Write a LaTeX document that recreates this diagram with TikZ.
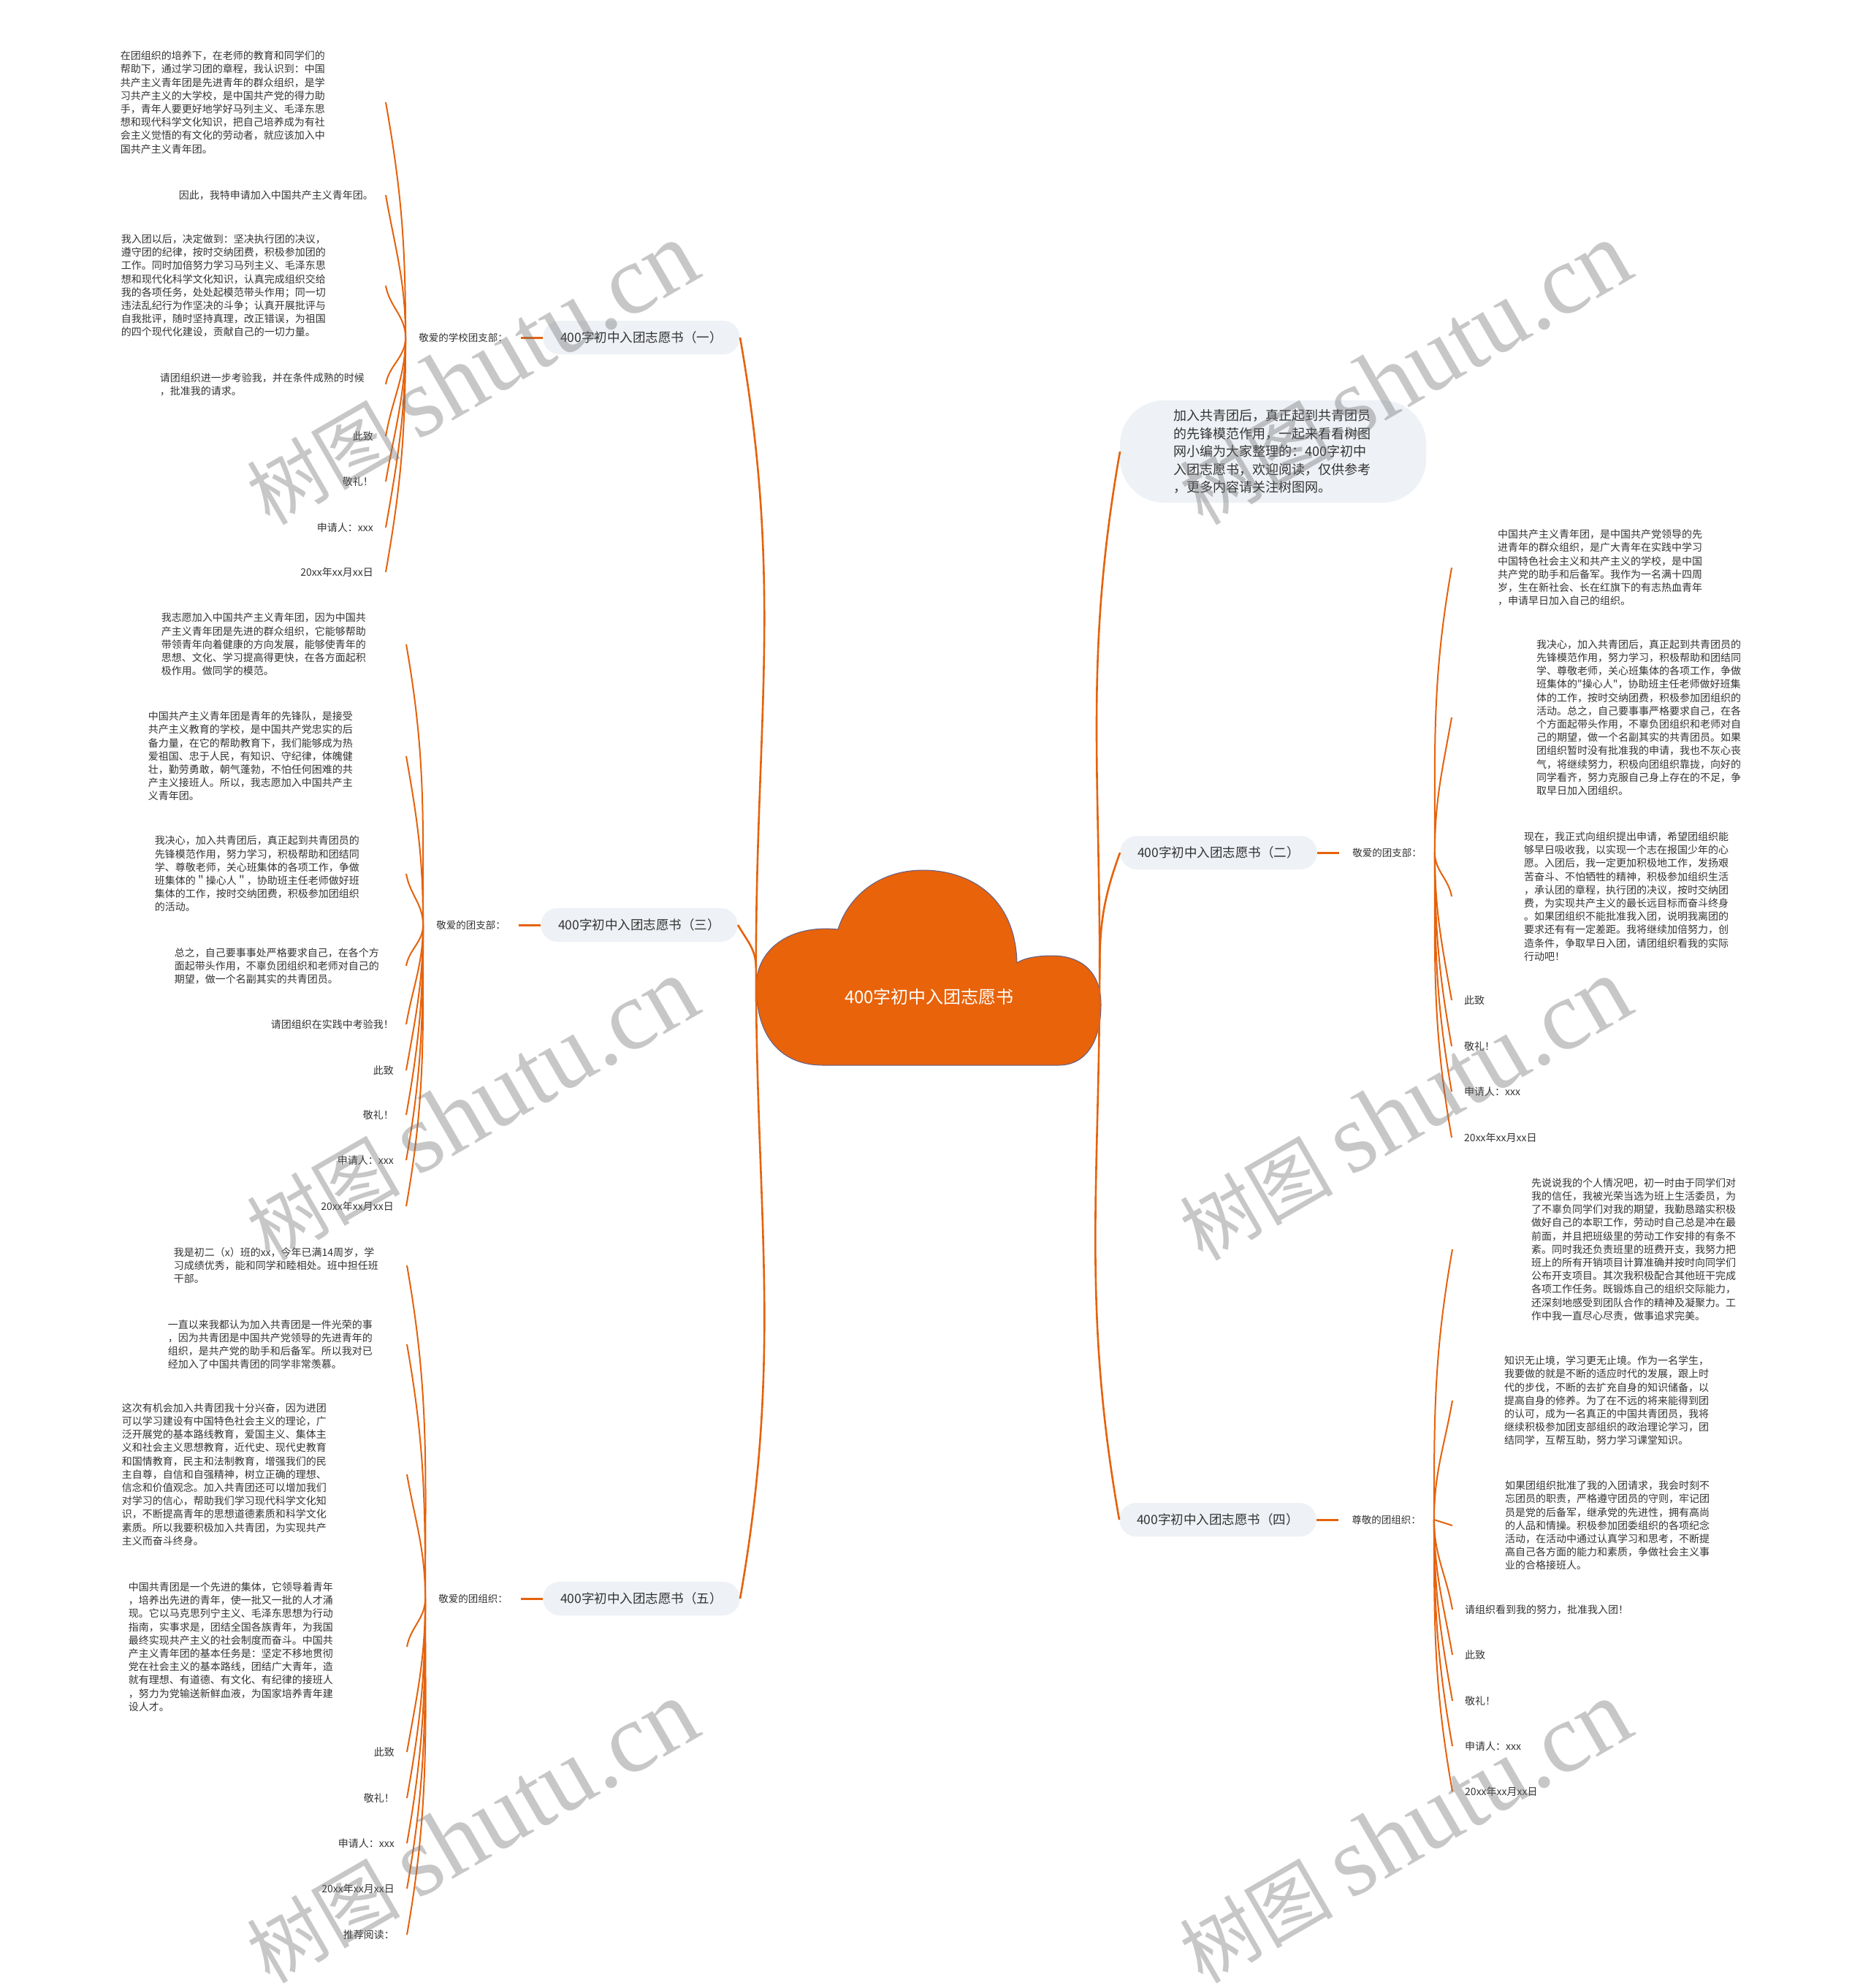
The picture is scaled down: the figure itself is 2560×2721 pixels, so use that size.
\documentclass[tikz,border=0pt]{standalone}
\usepackage{fontspec}
\usepackage{xcolor}
\usepackage{tikz}
\usetikzlibrary{positioning}
\newfontfamily\cjk{Noto Sans CJK SC}
\newfontfamily\wmserif{Liberation Serif}
\definecolor{twigorange}{HTML}{E5620C}
\definecolor{cloudorange}{HTML}{E8630A}
\definecolor{cloudedge}{HTML}{5E6190}
\definecolor{pillgray}{HTML}{EEF1F5}
\definecolor{ink}{HTML}{333333}

\begin{document}
\begin{tikzpicture}[
  x=1pt, y=1pt,
  node distance=30pt,
  leaf/.style={font=\cjk\fontsize{14}{18.2}\selectfont, text=ink, inner xsep=17pt, inner ysep=2pt, align=left},
  para/.style 2 args={leaf, text width=#1, minimum width=#2},
  tag/.style={font=\cjk\fontsize{13.5}{16}\selectfont, text=ink, inner xsep=18pt},
  branch/.style={font=\cjk\fontsize{17.5}{21}\selectfont, text=ink, fill=pillgray, rounded corners=23pt, minimum height=46pt, inner xsep=24pt},
  intro/.style={font=\cjk\fontsize{18}{24.5}\selectfont, text=ink, fill=pillgray, rounded corners=60pt, text width=272pt, minimum width=419pt, minimum height=140pt, align=left},
  rootlabel/.style={font=\cjk\fontsize{24}{28}\selectfont, text=white},
  twig/.style={twigorange, line width=2pt},
  limb/.style={twigorange, line width=2.6pt},
  stub/.style={twigorange, line width=3pt},
  wmark/.style={font=\cjk\fontsize{105}{110}\selectfont, rotate=30, text=black!55, opacity=0.4},
]
\useasboundingbox (0,0) rectangle (2560,-2721);

% Centre cloud
\node[inner sep=0, minimum width=470pt, minimum height=267pt] (root) at (1270,-1324) {};
\draw[cloudedge, fill=cloudorange, line width=1pt] (1147,-1272)
  .. controls (1080,-1265) and (1035,-1300) .. (1035,-1350)
  .. controls (1035,-1420) and (1070,-1458) .. (1126,-1458) -- (1449,-1458)
  .. controls (1490,-1458) and (1507,-1420) .. (1507,-1375)
  .. controls (1507,-1330) and (1480,-1308) .. (1440,-1308)
  .. controls (1415,-1308) and (1398,-1313) .. (1392,-1318)
  .. controls (1390,-1230) and (1330,-1191) .. (1263,-1191)
  .. controls (1200,-1191) and (1160,-1230) .. (1147,-1272) -- cycle;
\node[rootlabel] (title) at (1272,-1364) {400字初中入团志愿书};

% Branches
\node[branch, anchor=east] (b1) at (1013,-462) {400字初中入团志愿书（一）};
\node[branch, anchor=east] (b3) at (1010,-1266) {400字初中入团志愿书（三）};
\node[branch, anchor=east] (b5) at (1013,-2188) {400字初中入团志愿书（五）};
\node[intro, anchor=west] (intro) at (1533,-618) {加入共青团后，真正起到共青团员\\的先锋模范作用，一起来看看树图\\网小编为大家整理的：400字初中\\入团志愿书，欢迎阅读，仅供参考\\，更多内容请关注树图网。};
\node[branch, anchor=west] (b2) at (1533,-1167) {400字初中入团志愿书（二）};
\node[branch, anchor=west] (b4) at (1532,-2080) {400字初中入团志愿书（四）};

% Greetings
\node[tag, left=of b1] (g1) {敬爱的学校团支部：};
\node[tag, left=of b3] (g3) {敬爱的团支部：};
\node[tag, left=of b5] (g5) {敬爱的团组织：};
\node[tag, right=of b2] (g2) {敬爱的团支部：};
\node[tag, right=of b4] (g4) {尊敬的团组织：};

% Letter (一)
\node[para={282pt}{444pt}, anchor=east] (a1) at (528,-140) {在团组织的培养下，在老师的教育和同学们的\\帮助下，通过学习团的章程，我认识到：中国\\共产主义青年团是先进青年的群众组织，是学\\习共产主义的大学校，是中国共产党的得力助\\手，青年人要更好地学好马列主义、毛泽东思\\想和现代科学文化知识，把自己培养成为有社\\会主义觉悟的有文化的劳动者，就应该加入中\\国共产主义青年团。};
\node[leaf, anchor=east] (a2) at (528,-267) {因此，我特申请加入中国共产主义青年团。};
\node[para={282pt}{442pt}, anchor=east] (a3) at (528,-391) {我入团以后，决定做到：坚决执行团的决议，\\遵守团的纪律，按时交纳团费，积极参加团的\\工作。同时加倍努力学习马列主义、毛泽东思\\想和现代化科学文化知识，认真完成组织交给\\我的各项任务，处处起模范带头作用；同一切\\违法乱纪行为作坚决的斗争；认真开展批评与\\自我批评，随时坚持真理，改正错误，为祖国\\的四个现代化建设，贡献自己的一切力量。};
\node[para={282pt}{336pt}, anchor=east] (a4) at (528,-526) {请团组织进一步考验我，并在条件成熟的时候\\，批准我的请求。};
\node[leaf, anchor=east] (a5) at (528,-597) {此致};
\node[leaf, anchor=east] (a6) at (528,-659) {敬礼！};
\node[leaf, anchor=east] (a7) at (528,-722) {申请人：xxx};
\node[leaf, anchor=east] (a8) at (528,-783) {20xx年xx月xx日};

% Letter (三)
\node[para={282pt}{388pt}, anchor=east] (c1) at (556,-882) {我志愿加入中国共产主义青年团，因为中国共\\产主义青年团是先进的群众组织，它能够帮助\\带领青年向着健康的方向发展，能够使青年的\\思想、文化、学习提高得更快，在各方面起积\\极作用。做同学的模范。};
\node[para={282pt}{424pt}, anchor=east] (c2) at (556,-1035) {中国共产主义青年团是青年的先锋队，是接受\\共产主义教育的学校，是中国共产党忠实的后\\备力量，在它的帮助教育下，我们能够成为热\\爱祖国、忠于人民，有知识、守纪律，体魄健\\壮，勤劳勇敢，朝气蓬勃，不怕任何困难的共\\产主义接班人。所以，我志愿加入中国共产主\\义青年团。};
\node[para={282pt}{406pt}, anchor=east] (c3) at (556,-1196) {我决心，加入共青团后，真正起到共青团员的\\先锋模范作用，努力学习，积极帮助和团结同\\学、尊敬老师，关心班集体的各项工作，争做\\班集体的＂操心人＂，协助班主任老师做好班\\集体的工作，按时交纳团费，积极参加团组织\\的活动。};
\node[para={282pt}{352pt}, anchor=east] (c4) at (556,-1322) {总之，自己要事事处严格要求自己，在各个方\\面起带头作用，不辜负团组织和老师对自己的\\期望，做一个名副其实的共青团员。};
\node[leaf, anchor=east] (c5) at (556,-1402) {请团组织在实践中考验我！};
\node[leaf, anchor=east] (c6) at (556,-1465) {此致};
\node[leaf, anchor=east] (c7) at (556,-1526) {敬礼！};
\node[leaf, anchor=east] (c8) at (556,-1588) {申请人：xxx};
\node[leaf, anchor=east] (c9) at (556,-1651) {20xx年xx月xx日};

% Letter (五)
\node[para={282pt}{356pt}, anchor=east] (e1) at (557,-1732) {我是初二（x）班的xx，今年已满14周岁，学\\习成绩优秀，能和同学和睦相处。班中担任班\\干部。};
\node[para={282pt}{372pt}, anchor=east] (e2) at (557,-1840) {一直以来我都认为加入共青团是一件光荣的事\\，因为共青团是中国共产党领导的先进青年的\\组织，是共产党的助手和后备军。所以我对已\\经加入了中国共青团的同学非常羡慕。};
\node[para={282pt}{498pt}, anchor=east] (e3) at (557,-2018) {这次有机会加入共青团我十分兴奋，因为进团\\可以学习建设有中国特色社会主义的理论，广\\泛开展党的基本路线教育，爱国主义、集体主\\义和社会主义思想教育，近代史、现代史教育\\和国情教育，民主和法制教育，增强我们的民\\主自尊，自信和自强精神，树立正确的理想、\\信念和价值观念。加入共青团还可以增加我们\\对学习的信心，帮助我们学习现代科学文化知\\识，不断提高青年的思想道德素质和科学文化\\素质。所以我要积极加入共青团，为实现共产\\主义而奋斗终身。};
\node[para={282pt}{480pt}, anchor=east] (e4) at (557,-2254) {中国共青团是一个先进的集体，它领导着青年\\，培养出先进的青年，使一批又一批的人才涌\\现。它以马克思列宁主义、毛泽东思想为行动\\指南，实事求是，团结全国各族青年，为我国\\最终实现共产主义的社会制度而奋斗。中国共\\产主义青年团的基本任务是：坚定不移地贯彻\\党在社会主义的基本路线，团结广大青年，造\\就有理想、有道德、有文化、有纪律的接班人\\，努力为党输送新鲜血液，为国家培养青年建\\设人才。};
\node[leaf, anchor=east] (e5) at (557,-2398) {此致};
\node[leaf, anchor=east] (e6) at (557,-2461) {敬礼！};
\node[leaf, anchor=east] (e7) at (557,-2523) {申请人：xxx};
\node[leaf, anchor=east] (e8) at (557,-2585) {20xx年xx月xx日};
\node[leaf, anchor=east] (e9) at (557,-2648) {推荐阅读：};

% Letter (二)
\node[para={282pt}{408pt}, anchor=west] (d1) at (1987,-777) {中国共产主义青年团，是中国共产党领导的先\\进青年的群众组织，是广大青年在实践中学习\\中国特色社会主义和共产主义的学校，是中国\\共产党的助手和后备军。我作为一名满十四周\\岁，生在新社会、长在红旗下的有志热血青年\\，申请早日加入自己的组织。};
\node[para={282pt}{514pt}, anchor=west] (d2) at (1987,-982) {我决心，加入共青团后，真正起到共青团员的\\先锋模范作用，努力学习，积极帮助和团结同\\学、尊敬老师，关心班集体的各项工作，争做\\班集体的"操心人"，协助班主任老师做好班集\\体的工作，按时交纳团费，积极参加团组织的\\活动。总之，自己要事事严格要求自己，在各\\个方面起带头作用，不辜负团组织和老师对自\\己的期望，做一个名副其实的共青团员。如果\\团组织暂时没有批准我的申请，我也不灰心丧\\气，将继续努力，积极向团组织靠拢，向好的\\同学看齐，努力克服自己身上存在的不足，争\\取早日加入团组织。};
\node[para={282pt}{480pt}, anchor=west] (d3) at (1987,-1227) {现在，我正式向组织提出申请，希望团组织能\\够早日吸收我，以实现一个志在报国少年的心\\愿。入团后，我一定更加积极地工作，发扬艰\\苦奋斗、不怕牺牲的精神，积极参加组织生活\\，承认团的章程，执行团的决议，按时交纳团\\费，为实现共产主义的最长远目标而奋斗终身\\。如果团组织不能批准我入团，说明我离团的\\要求还有有一定差距。我将继续加倍努力，创\\造条件，争取早日入团，请团组织看我的实际\\行动吧！};
\node[leaf, anchor=west] (d4) at (1987,-1369) {此致};
\node[leaf, anchor=west] (d5) at (1987,-1432) {敬礼！};
\node[leaf, anchor=west] (d6) at (1987,-1494) {申请人：xxx};
\node[leaf, anchor=west] (d7) at (1987,-1557) {20xx年xx月xx日};

% Letter (四)
\node[para={282pt}{498pt}, anchor=west] (f1) at (1988,-1710) {先说说我的个人情况吧，初一时由于同学们对\\我的信任，我被光荣当选为班上生活委员，为\\了不辜负同学们对我的期望，我勤恳踏实积极\\做好自己的本职工作，劳动时自己总是冲在最\\前面，并且把班级里的劳动工作安排的有条不\\紊。同时我还负责班里的班费开支，我努力把\\班上的所有开销项目计算准确并按时向同学们\\公布开支项目。其次我积极配合其他班干完成\\各项工作任务。既锻炼自己的组织交际能力，\\还深刻地感受到团队合作的精神及凝聚力。工\\作中我一直尽心尽责，做事追求完美。};
\node[para={282pt}{424pt}, anchor=west] (f2) at (1988,-1917) {知识无止境，学习更无止境。作为一名学生，\\我要做的就是不断的适应时代的发展，跟上时\\代的步伐，不断的去扩充自身的知识储备，以\\提高自身的修养。为了在不远的将来能得到团\\的认可，成为一名真正的中国共青团员，我将\\继续积极参加团支部组织的政治理论学习，团\\结同学，互帮互助，努力学习课堂知识。};
\node[para={282pt}{426pt}, anchor=west] (f3) at (1988,-2088) {如果团组织批准了我的入团请求，我会时刻不\\忘团员的职责，严格遵守团员的守则，牢记团\\员是党的后备军，继承党的先进性，拥有高尚\\的人品和情操。积极参加团委组织的各项纪念\\活动，在活动中通过认真学习和思考，不断提\\高自己各方面的能力和素质，争做社会主义事\\业的合格接班人。};
\node[leaf, anchor=west] (f4) at (1988,-2203) {请组织看到我的努力，批准我入团！};
\node[leaf, anchor=west] (f5) at (1988,-2265) {此致};
\node[leaf, anchor=west] (f6) at (1988,-2328) {敬礼！};
\node[leaf, anchor=west] (f7) at (1988,-2390) {申请人：xxx};
\node[leaf, anchor=west] (f8) at (1988,-2452) {20xx年xx月xx日};

% Main limbs
\draw[limb] (root.west) to[out=90, in=-80] (b1.east);
\draw[limb] (root.west) to[out=90, in=-60] (b3.east);
\draw[limb] (root.west) to[out=-90, in=80] (b5.east);
\draw[limb] (root.east) to[out=90, in=-100] (intro.west);
\draw[limb] (root.east) to[out=90, in=-110] (b2.west);
\draw[limb] (root.east) to[out=-90, in=100] (b4.west);

% Stubs
\draw[stub] (g1.east) -- (b1.west);
\draw[stub] (g3.east) -- (b3.west);
\draw[stub] (g5.east) -- (b5.west);
\draw[stub] (b2.east) -- (g2.west);
\draw[stub] (b4.east) -- (g4.west);

% Twigs (一)
\draw[twig] (g1.west) to[out=90, in=-80] (a1.east);
\draw[twig] (g1.west) to[out=90, in=-80] (a2.east);
\draw[twig] (g1.west) to[out=90, in=-80] (a3.east);
\draw[twig] (g1.west) to[out=-90, in=80] (a4.east);
\draw[twig] (g1.west) to[out=-90, in=80] (a5.east);
\draw[twig] (g1.west) to[out=-90, in=80] (a6.east);
\draw[twig] (g1.west) to[out=-90, in=80] (a7.east);
\draw[twig] (g1.west) to[out=-90, in=80] (a8.east);

% Twigs (三)
\draw[twig] (g3.west) to[out=90, in=-80] (c1.east);
\draw[twig] (g3.west) to[out=90, in=-80] (c2.east);
\draw[twig] (g3.west) to[out=90, in=-80] (c3.east);
\draw[twig] (g3.west) to[out=-90, in=80] (c4.east);
\draw[twig] (g3.west) to[out=-90, in=80] (c5.east);
\draw[twig] (g3.west) to[out=-90, in=80] (c6.east);
\draw[twig] (g3.west) to[out=-90, in=80] (c7.east);
\draw[twig] (g3.west) to[out=-90, in=80] (c8.east);
\draw[twig] (g3.west) to[out=-90, in=80] (c9.east);

% Twigs (五)
\draw[twig] (g5.west) to[out=90, in=-80] (e1.east);
\draw[twig] (g5.west) to[out=90, in=-80] (e2.east);
\draw[twig] (g5.west) to[out=90, in=-80] (e3.east);
\draw[twig] (g5.west) to[out=-90, in=80] (e4.east);
\draw[twig] (g5.west) to[out=-90, in=80] (e5.east);
\draw[twig] (g5.west) to[out=-90, in=80] (e6.east);
\draw[twig] (g5.west) to[out=-90, in=80] (e7.east);
\draw[twig] (g5.west) to[out=-90, in=80] (e8.east);
\draw[twig] (g5.west) to[out=-90, in=80] (e9.east);

% Twigs (二)
\draw[twig] (g2.east) to[out=90, in=-100] (d1.west);
\draw[twig] (g2.east) to[out=90, in=-100] (d2.west);
\draw[twig] (g2.east) to[out=-90, in=100] (d3.west);
\draw[twig] (g2.east) to[out=-90, in=100] (d4.west);
\draw[twig] (g2.east) to[out=-90, in=100] (d5.west);
\draw[twig] (g2.east) to[out=-90, in=100] (d6.west);
\draw[twig] (g2.east) to[out=-90, in=100] (d7.west);

% Twigs (四)
\draw[twig] (g4.east) to[out=90, in=-100] (f1.west);
\draw[twig] (g4.east) to[out=90, in=-100] (f2.west);
\draw[twig] (g4.east) -- (f3.west);
\draw[twig] (g4.east) to[out=-90, in=100] (f4.west);
\draw[twig] (g4.east) to[out=-90, in=100] (f5.west);
\draw[twig] (g4.east) to[out=-90, in=100] (f6.west);
\draw[twig] (g4.east) to[out=-90, in=100] (f7.west);
\draw[twig] (g4.east) to[out=-90, in=100] (f8.west);

% Watermarks
\node[wmark] (w1) at (646,-512) {树图 {\wmserif\fontsize{135}{140}\selectfont shutu.cn}};
\node[wmark] (w2) at (1923,-512) {树图 {\wmserif\fontsize{135}{140}\selectfont shutu.cn}};
\node[wmark] (w3) at (646,-1519) {树图 {\wmserif\fontsize{135}{140}\selectfont shutu.cn}};
\node[wmark] (w4) at (1923,-1519) {树图 {\wmserif\fontsize{135}{140}\selectfont shutu.cn}};
\node[wmark] (w5) at (646,-2508) {树图 {\wmserif\fontsize{135}{140}\selectfont shutu.cn}};
\node[wmark] (w6) at (1923,-2508) {树图 {\wmserif\fontsize{135}{140}\selectfont shutu.cn}};

\end{tikzpicture}
\end{document}
